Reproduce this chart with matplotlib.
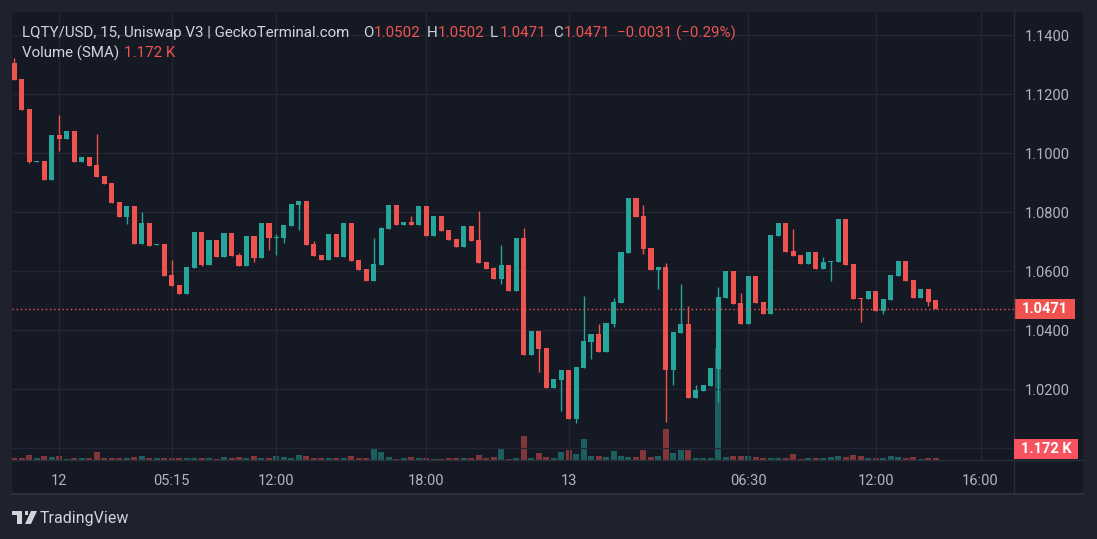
import matplotlib
matplotlib.use('Agg')
import matplotlib.pyplot as plt
import matplotlib.transforms as mtransforms
from matplotlib.patches import Rectangle, Polygon
import numpy as np

opens = [1.1305, 1.1252, 1.1150, 1.0972, 1.0974, 1.0910, 1.1062, 1.1050, 1.1076, 1.0972,
         1.0988, 1.0961, 1.0923, 1.0899, 1.0835, 1.0785, 1.0821, 1.0694, 1.0764, 1.0690,
         1.0693, 1.0588, 1.0554, 1.0524, 1.0612, 1.0733, 1.0623, 1.0706, 1.0650, 1.0730,
         1.0655, 1.0619, 1.0720, 1.0646, 1.0764, 1.0714, 1.0714, 1.0755, 1.0826, 1.0837,
         1.0693, 1.0654, 1.0638, 1.0727, 1.0649, 1.0764, 1.0638, 1.0608, 1.0567, 1.0621,
         1.0743, 1.0825, 1.0757, 1.0767, 1.0757, 1.0821, 1.0720, 1.0788, 1.0740, 1.0710,
         1.0682, 1.0754, 1.0706, 1.0632, 1.0611, 1.0574, 1.0621, 1.0533, 1.0713, 1.0316,
         1.0398, 1.0340, 1.0204, 1.0232, 1.0266, 1.0099, 1.0272, 1.0360, 1.0388, 1.0327,
         1.0421, 1.0493, 1.0662, 1.0849, 1.0788, 1.0679, 1.0605, 1.0614, 1.0266, 1.0391,
         1.0421, 1.0170, 1.0194, 1.0211, 1.0269, 1.0509, 1.0601, 1.0493, 1.0421, 1.0584,
         1.0496, 1.0455, 1.0720, 1.0764, 1.0669, 1.0655, 1.0625, 1.0666, 1.0608, 1.0630,
         1.0632, 1.0777, 1.0625, 1.0508, 1.0506, 1.0533, 1.0465, 1.0502, 1.0584, 1.0635,
         1.0570, 1.0509, 1.0540, 1.0502]
highs = [1.1322, 1.1252, 1.1150, 1.0974, 1.0974, 1.1062, 1.1130, 1.1076, 1.1076, 1.0988,
         1.0988, 1.1066, 1.0923, 1.0899, 1.0835, 1.0821, 1.0821, 1.0802, 1.0764, 1.0692,
         1.0693, 1.0638, 1.0554, 1.0615, 1.0733, 1.0733, 1.0706, 1.0706, 1.0730, 1.0730,
         1.0662, 1.0720, 1.0720, 1.0764, 1.0764, 1.0727, 1.0757, 1.0828, 1.0837, 1.0837,
         1.0703, 1.0654, 1.0727, 1.0727, 1.0764, 1.0764, 1.0638, 1.0608, 1.0713, 1.0750,
         1.0825, 1.0825, 1.0767, 1.0788, 1.0821, 1.0821, 1.0788, 1.0788, 1.0740, 1.0710,
         1.0754, 1.0754, 1.0805, 1.0632, 1.0615, 1.0689, 1.0621, 1.0713, 1.0747, 1.0398,
         1.0398, 1.0340, 1.0235, 1.0266, 1.0266, 1.0276, 1.0516, 1.0388, 1.0422, 1.0425,
         1.0510, 1.0666, 1.0849, 1.0849, 1.0825, 1.0679, 1.0614, 1.0628, 1.0394, 1.0557,
         1.0482, 1.0215, 1.0215, 1.0272, 1.0547, 1.0601, 1.0601, 1.0527, 1.0584, 1.0584,
         1.0496, 1.0723, 1.0764, 1.0764, 1.0742, 1.0655, 1.0666, 1.0666, 1.0649, 1.0635,
         1.0777, 1.0777, 1.0625, 1.0508, 1.0533, 1.0533, 1.0506, 1.0587, 1.0635, 1.0635,
         1.0570, 1.0540, 1.0540, 1.0502]
lows = [1.1249, 1.1147, 1.0967, 1.0972, 1.0910, 1.0910, 1.1008, 1.1050, 1.0972, 1.0972,
        1.0958, 1.0921, 1.0897, 1.0833, 1.0785, 1.0760, 1.0694, 1.0694, 1.0687, 1.0690,
        1.0585, 1.0551, 1.0524, 1.0524, 1.0612, 1.0618, 1.0623, 1.0650, 1.0650, 1.0653,
        1.0619, 1.0619, 1.0633, 1.0646, 1.0672, 1.0656, 1.0697, 1.0755, 1.0740, 1.0690,
        1.0652, 1.0638, 1.0638, 1.0649, 1.0649, 1.0635, 1.0604, 1.0567, 1.0567, 1.0621,
        1.0743, 1.0757, 1.0757, 1.0757, 1.0757, 1.0720, 1.0720, 1.0737, 1.0706, 1.0682,
        1.0682, 1.0703, 1.0628, 1.0608, 1.0574, 1.0557, 1.0533, 1.0533, 1.0316, 1.0316,
        1.0259, 1.0204, 1.0204, 1.0125, 1.0099, 1.0086, 1.0272, 1.0303, 1.0327, 1.0327,
        1.0411, 1.0493, 1.0662, 1.0784, 1.0659, 1.0605, 1.0540, 1.0089, 1.0215, 1.0391,
        1.0170, 1.0170, 1.0194, 1.0211, 1.0156, 1.0509, 1.0489, 1.0421, 1.0421, 1.0493,
        1.0455, 1.0455, 1.0720, 1.0666, 1.0652, 1.0625, 1.0625, 1.0608, 1.0608, 1.0567,
        1.0632, 1.0621, 1.0506, 1.0428, 1.0506, 1.0465, 1.0455, 1.0502, 1.0584, 1.0567,
        1.0509, 1.0509, 1.0482, 1.0471]
closes = [1.1249, 1.1147, 1.0972, 1.0974, 1.0910, 1.1062, 1.1050, 1.1076, 1.0972, 1.0988,
          1.0958, 1.0921, 1.0897, 1.0833, 1.0785, 1.0821, 1.0694, 1.0764, 1.0687, 1.0692,
          1.0585, 1.0551, 1.0524, 1.0615, 1.0733, 1.0623, 1.0706, 1.0650, 1.0730, 1.0653,
          1.0619, 1.0720, 1.0646, 1.0764, 1.0714, 1.0716, 1.0757, 1.0828, 1.0837, 1.0690,
          1.0652, 1.0638, 1.0727, 1.0649, 1.0764, 1.0635, 1.0604, 1.0567, 1.0625, 1.0747,
          1.0825, 1.0757, 1.0767, 1.0757, 1.0821, 1.0720, 1.0788, 1.0737, 1.0706, 1.0682,
          1.0754, 1.0703, 1.0628, 1.0608, 1.0574, 1.0621, 1.0533, 1.0713, 1.0316, 1.0398,
          1.0337, 1.0204, 1.0235, 1.0266, 1.0099, 1.0276, 1.0364, 1.0388, 1.0327, 1.0425,
          1.0496, 1.0666, 1.0849, 1.0784, 1.0676, 1.0605, 1.0614, 1.0266, 1.0394, 1.0421,
          1.0170, 1.0198, 1.0215, 1.0272, 1.0513, 1.0601, 1.0489, 1.0421, 1.0584, 1.0493,
          1.0455, 1.0723, 1.0764, 1.0666, 1.0652, 1.0625, 1.0666, 1.0608, 1.0632, 1.0635,
          1.0777, 1.0621, 1.0506, 1.0506, 1.0533, 1.0465, 1.0506, 1.0587, 1.0635, 1.0567,
          1.0509, 1.0540, 1.0496, 1.0471]
volumes_k = [1.2, 1.2, 3.0, 1.2, 2.4, 1.8, 2.4, 0.6, 1.2, 1.2, 1.2, 4.8, 1.2, 1.2, 1.2, 1.2, 1.8, 2.4, 1.2, 1.2, 1.2,
             1.2, 1.2, 1.2, 1.2, 1.2, 1.2, 0.6, 1.8, 1.2, 1.8, 1.2, 2.4, 1.2, 1.2, 2.4, 1.8, 1.2, 3.0, 2.4, 1.2, 1.2,
             1.2, 1.2, 1.2, 2.4, 1.2, 1.2, 6.6, 4.8, 1.8, 0.6, 1.2, 1.8, 1.2, 1.2, 0.6, 0.6, 1.2, 1.2, 1.2, 1.2,
             3.0, 1.2, 1.8, 6.6, 0.6, 1.2, 14.4, 1.2, 4.2, 1.8, 1.2, 4.8, 6.0, 3.6, 12.6, 2.4, 2.4, 1.8, 5.4, 2.4, 1.8,
             1.8, 6.0, 1.8, 2.4, 18.6, 4.2, 6.0, 6.0, 1.2, 1.2, 1.2, 67.2, 1.8, 2.4, 2.4, 2.4, 1.8, 1.2, 1.2, 1.2, 1.2,
             3.6, 0.6, 1.2, 1.2, 1.2, 1.8, 2.4, 1.8, 3.0, 2.4, 1.2, 1.2, 1.2, 2.4, 1.8, 1.2, 1.8, 0.6, 1.2, 1.172]

time_tick_idx = [6, 21, 35, 55, 74, 98, 115, 129]
time_tick_labels = ['12', '05:15', '12:00', '18:00', '13', '06:30', '12:00', '16:00']
price_ticks = [1.14, 1.12, 1.10, 1.08, 1.06, 1.04, 1.02]
price_tick_labels = ['1.1400', '1.1200', '1.1000', '1.0800', '1.0600', '1.0400', '1.0200']
grid_prices = [1.14, 1.12, 1.10, 1.08, 1.06, 1.04, 1.02, 1.00]

title_text = 'LQTY/USD, 15, Uniswap V3 | GeckoTerminal.com'
ohlc_keys = ['O', 'H', 'L', 'C']
ohlc_vals = ['1.0502', '1.0502', '1.0471', '1.0471']
change_text = '\u22120.0031 (\u22120.29%)'
vol_label = 'Volume (SMA)'
vol_value = '1.172 K'
last_price = 1.0471
last_price_label = '1.0471'

UP = '#26a69a'
DOWN = '#ef5350'
BG = '#151924'
FRAME = '#1f222c'
GRID = '#232733'
TXT = '#d1d4dc'
AXTXT = '#b2b5be'
FONT = ['Roboto', 'DejaVu Sans']
plt.rcParams['font.family'] = FONT
HDR = 10.9

W, H = 1097, 539
fig = plt.figure(figsize=(W / 100, H / 100), dpi=100, facecolor=FRAME)

def fx(x):
    return x / W

def fy(y):
    return 1 - y / H

fig.add_artist(Rectangle((fx(12), fy(494)), fx(1083) - fx(12), fy(12) - fy(494),
                         transform=fig.transFigure, fc=BG, ec='none', zorder=0))

ax = fig.add_axes([fx(12), fy(460), fx(1014) - fx(12), fy(12) - fy(460)])
ax2 = ax.twinx()
ax.set_zorder(ax2.get_zorder() + 1)
ax.patch.set_visible(False)
ax2.set_facecolor(BG)

n = len(opens)
idx = np.arange(n)
o = np.array(opens); c = np.array(closes)
hi = np.array(highs); lo = np.array(lows)
up = c >= o
cols = np.where(up, UP, DOWN)

vcols = [(38/255, 166/255, 154/255, 0.5) if u else (239/255, 83/255, 80/255, 0.5) for u in up]
ax2.bar(idx, volumes_k, width=0.8, color=vcols, linewidth=0)
ax2.set_ylim(0, 268.8)
ax2.set_yticks([])
for s in ax2.spines.values():
    s.set_visible(False)

ax.vlines(idx, lo, hi, colors=cols, lw=1, zorder=2)
body_b = np.minimum(o, c)
body_h = np.maximum(np.abs(c - o), 0.00035)
ax.bar(idx, body_h, bottom=body_b, width=0.68, color=cols, linewidth=0, zorder=3)

ax.set_xlim(-0.307, 133.47)
ax.set_ylim(0.99603, 1.14790)

for gp in grid_prices:
    ax.axhline(gp, color=GRID, lw=1, zorder=0)
for ti in time_tick_idx:
    ax.axvline(ti, color=GRID, lw=1, zorder=0)

ax.axhline(last_price, color=DOWN, lw=1, ls=(0, (1, 2)), zorder=4)

ax.yaxis.tick_right()
ax.set_yticks(price_ticks)
ax.set_yticklabels(price_tick_labels)
ax.tick_params(axis='y', length=0, pad=8, labelsize=10.5, labelcolor=AXTXT)
ax.set_xticks(time_tick_idx)
ax.set_xticklabels(time_tick_labels)
ax.tick_params(axis='x', length=0, pad=10, labelsize=10.5, labelcolor=AXTXT)
for s in ax.spines.values():
    s.set_visible(False)

LINE = '#2a2e39'
fig.add_artist(plt.Line2D([fx(1014), fx(1014)], [fy(12), fy(494)], transform=fig.transFigure, color=LINE, lw=1))
fig.add_artist(plt.Line2D([fx(12), fx(1083)], [fy(460), fy(460)], transform=fig.transFigure, color=LINE, lw=1))
fig.add_artist(plt.Line2D([fx(12), fx(1083)], [fy(494), fy(494)], transform=fig.transFigure, color='#2e323e', lw=1.5))

bt = mtransforms.blended_transform_factory(fig.transFigure, ax.transData)
box_h = 20 / 2950
ax.add_artist(Rectangle((fx(1014), last_price - box_h / 2), fx(1075) - fx(1014), box_h,
                        transform=bt, fc='#f0524f', ec='none', zorder=10, clip_on=False))
ax.text(fx(1045), last_price, last_price_label, transform=bt, ha='center', va='center',
        color='white', fontsize=10.5, fontweight='bold', zorder=11, clip_on=False)

fig.add_artist(Rectangle((fx(1014), fy(459)), fx(1078) - fx(1014), fy(439) - fy(459),
                         transform=fig.transFigure, fc='#f7525f', ec='none', zorder=10))
fig.text(fx(1046), fy(449), vol_value, ha='center', va='center', color='white',
         fontsize=10.5, fontweight='bold', zorder=11)

fig.text(fx(22), fy(33), title_text, ha='left', va='center', color=TXT, fontsize=HDR)
key_x = [363, 427, 490, 553]
val_x = [374, 438, 500, 564]
for k, kx, v, vx in zip(ohlc_keys, key_x, ohlc_vals, val_x):
    fig.text(fx(kx), fy(33), k, ha='left', va='center', color=TXT, fontsize=HDR)
    fig.text(fx(vx), fy(33), v, ha='left', va='center', color=DOWN, fontsize=HDR)
fig.text(fx(617), fy(33), change_text, ha='left', va='center', color=DOWN, fontsize=HDR)
fig.text(fx(22), fy(53), vol_label, ha='left', va='center', color=TXT, fontsize=HDR)
fig.text(fx(124), fy(53), vol_value, ha='left', va='center', color=DOWN, fontsize=HDR)

LOGO = '#d1d4dc'
tf = fig.transFigure
def P(x, y):
    return (fx(x), fy(y))
fig.add_artist(Polygon([P(12, 511), P(22, 511), P(22, 524), P(17, 524), P(17, 515), P(12, 515)],
                       closed=True, transform=tf, fc=LOGO, ec='none'))
fig.add_artist(Polygon([P(24.5, 511), P(28, 511), P(28, 515), P(24.5, 515)], closed=True, transform=tf, fc=LOGO, ec='none'))
fig.add_artist(Polygon([P(31, 511), P(37, 511), P(31, 524), P(25, 524)], closed=True, transform=tf, fc=LOGO, ec='none'))
fig.text(fx(40), fy(518), 'TradingView', ha='left', va='center', color=LOGO, fontsize=11.5)

fig.savefig('out.png', dpi=100, facecolor=FRAME)
